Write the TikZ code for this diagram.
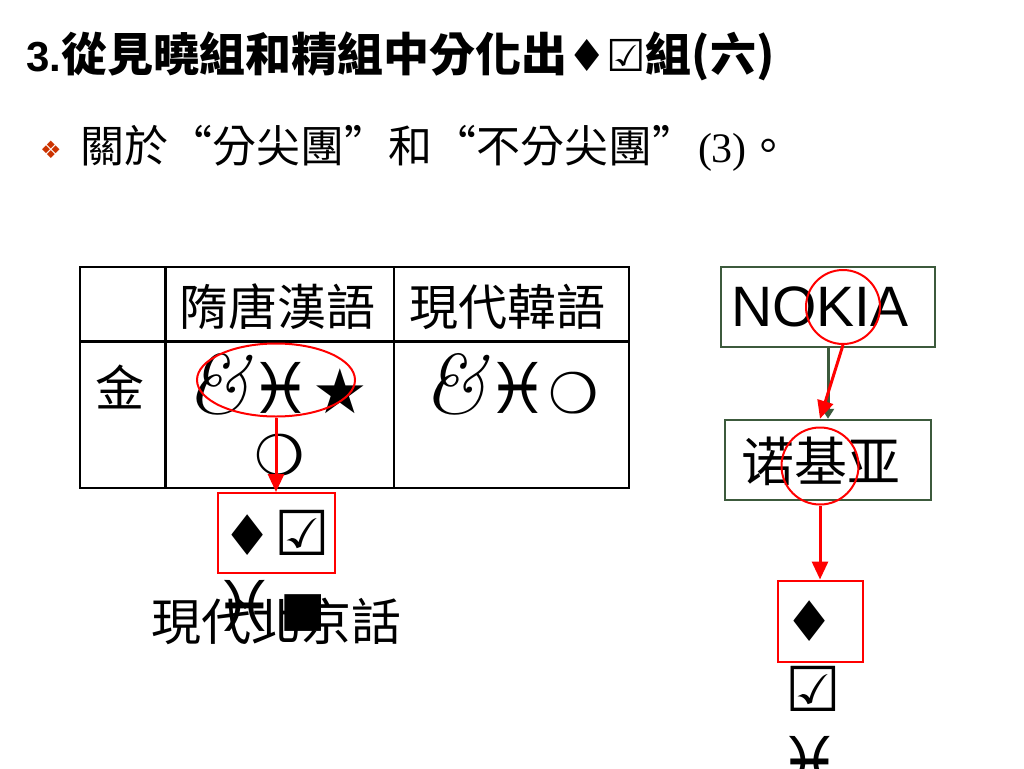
\documentclass[tikz,border=0pt]{standalone}
\usepackage{fontspec}
\usetikzlibrary{shapes.geometric,arrows.meta}
\newfontfamily\cjk{Noto Sans CJK TC}
\newfontfamily\cjksc{Noto Sans CJK SC}
\newfontfamily\sym{DejaVu Sans}
\newfontfamily\arial{Liberation Sans}
\newfontfamily\tnr{Liberation Serif}
\newcommand\fsz[1]{\fontsize{#1}{#1}\selectfont}
\newcommand\myamp{{\fsz{84}\itshape\&}}
\newcommand\mypis{{\sym\fsz{70}♓}}
\newcommand\mystar{{\sym\fsz{62}★}}
\newcommand\mycirc{{\sym\fsz{56}❍}}
\newcommand\mydia{{\sym\fsz{56}♦}}
\newcommand\mychk{{\sym\fsz{62}☑}}
\newcommand\mysq{{\sym\fsz{48}■}}
\definecolor{boxgreen}{RGB}{60,90,60}
\definecolor{bulletred}{RGB}{204,51,0}
\tikzset{
  txt/.style={inner sep=0pt, outer sep=0pt},
  thinline/.style={line width=1.5pt, black},
  thickline/.style={line width=3pt, black},
  redring/.style={draw=red, line width=2pt, inner sep=0pt},
  redbox/.style={draw=red, line width=2pt, inner sep=0pt},
  greenbox/.style={draw=boxgreen, line width=2.5pt, inner sep=0pt},
  redarrow/.style={red, line width=3pt, -{Triangle[width=16pt,length=18pt]}},
  greenarrow/.style={boxgreen, line width=3pt, -{Triangle[width=12pt,length=10pt]}}
}
\begin{document}
\begin{tikzpicture}[x=1pt,y=-1pt]
\useasboundingbox[fill=white] (0,0) rectangle (1024,768);
% title
\node[txt, anchor=west] (title) at (26,56) {{\arial\bfseries\fsz{42}3.}{\cjk\bfseries\fsz{46}從見曉組和精組中分化出}{\sym\bfseries\fsz{44}♦☑}{\cjk\bfseries\fsz{46}組(六)}};
% bullet line
\node[txt, anchor=center, text=bulletred] (bul) at (51,150) {\sym\fsz{24}❖};
\node[txt, anchor=west] (line) at (80,148) {\cjk\fsz{44}關於“分尖團”和“不分尖團”\kern2pt{\tnr\fsz{42}(3)}。};
% table
\draw[thinline] (80,267) rectangle (629,488);
\draw[thinline] (394,267) -- (394,488);
\draw[thickline] (165,267) -- (165,488);
\draw[thickline] (80,341) -- (629,341);
\node[txt] (h1) at (277,307) {\cjk\fsz{49}隋唐漢語};
\node[txt] (h2) at (507,307) {\cjk\fsz{49}現代韓語};
\node[txt] (r1) at (120,387) {\cjk\fsz{49}金};
\node[txt] (c1a) at (277,384) {\myamp\mypis\mystar};
\node[txt] (c1b) at (280,455) {\mycirc};
\node[txt] (c2) at (511,384) {\myamp\mypis\mycirc};
% left: ellipse, arrow, box
\node[redring, ellipse, minimum width=158pt, minimum height=73pt] (ell) at (276,380) {};
\node[redbox, minimum width=117pt, minimum height=80pt] (box1) at (276,533) {\mydia\,\mychk};
\node[txt] (bj) at (276,621) {\cjk\fsz{50}現代北京話};
\node[txt] (of1) at (270,606) {\mypis\kern4pt\raisebox{6pt}{\mysq}};
\draw[redarrow] (ell.south) -- (box1.north);
% right
\node[greenbox, minimum width=214pt, minimum height=80pt] (nokia) at (828,307) {};
\node[txt] (nokiat) at (820,307) {\arial\fsz{57}NOKIA};
\node[greenbox, minimum width=206pt, minimum height=80pt] (nuo) at (828,460) {};
\node[txt] (nuot) at (821,461) {\cjksc\fsz{53}诺基亚};
\node[redring, circle, minimum size=74pt] (ring1) at (843,307) {};
\node[redring, circle, minimum size=77pt] (ring2) at (820,466) {};
\node[redbox, minimum width=85pt, minimum height=81pt] (box2) at (820,621) {};
\node[txt] (d2) at (810,621) {\mydia};
\node[txt] (of2a) at (813,689) {\mychk};
\node[txt] (of2b) at (810,762) {\mypis};
\draw[greenarrow] (nokia.south) -- (nuo.north);
\draw[redarrow] (ring1.south) -- (ring2.north |- nuo.north);
\draw[redarrow] (ring2.south) -- (box2.north);
\end{tikzpicture}
\end{document}
